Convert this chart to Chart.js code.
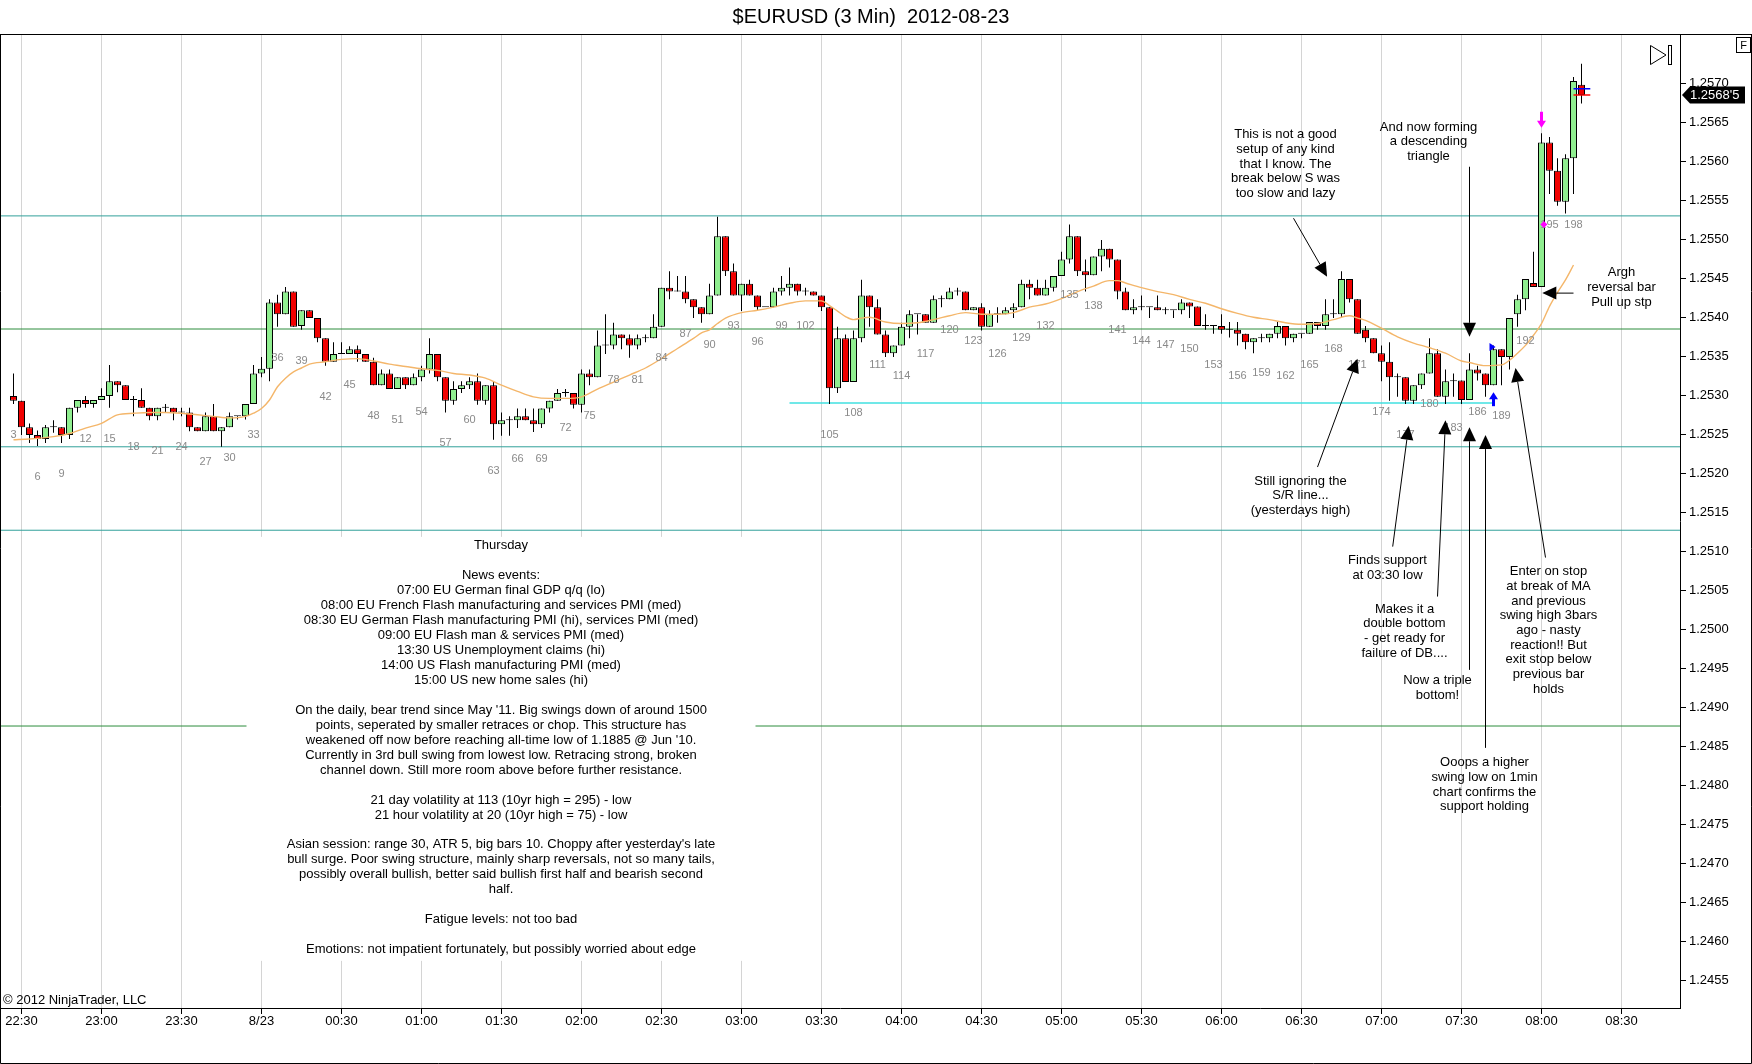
<!DOCTYPE html>
<html>
<head>
<meta charset="utf-8">
<title>$EURUSD (3 Min) 2012-08-23</title>
<script src="https://cdn.jsdelivr.net/npm/chart.js@4.4.1/dist/chart.umd.min.js"></script>
<style>
  html, body { margin: 0; padding: 0; background: #fff; }
  #wrap { width: 1752px; height: 1064px; }
</style>
</head>
<body>
<div id="wrap"><canvas id="chart" width="1752" height="1064"></canvas></div>
<script>
// ---- data (bar numbers 3..199, 3 minute bars) ----
const firstBar = 3;

const opens = [
  1.25299, 1.25293, 1.25259, 1.25249, 1.25244, 1.25259, 1.25259, 1.25249, 1.25284, 1.25294,
  1.25289, 1.25294, 1.25299, 1.25318, 1.25313, 1.25294, 1.25294, 1.25284, 1.25273, 1.25284,
  1.25284, 1.25278, 1.25278, 1.25259, 1.25254, 1.25273, 1.25254, 1.25259, 1.25273, 1.25273,
  1.25289, 1.25328, 1.25334, 1.25419, 1.25404, 1.25433, 1.25389, 1.25409, 1.25399, 1.25373,
  1.25343, 1.25353, 1.25353, 1.25359, 1.25353, 1.25343, 1.25313, 1.25328, 1.25308, 1.25323,
  1.25313, 1.25323, 1.25333, 1.25353, 1.25323, 1.25293, 1.25308, 1.25313, 1.25318, 1.25293,
  1.25313, 1.25263, 1.25268, 1.25268, 1.25273, 1.25268, 1.25263, 1.25283, 1.25293, 1.25303,
  1.25303, 1.25288, 1.25328, 1.25323, 1.25364, 1.25364, 1.25378, 1.25373, 1.25364, 1.25373,
  1.25373, 1.25388, 1.25438, 1.25433, 1.25433, 1.25423, 1.25413, 1.25404, 1.25428, 1.25504,
  1.25459, 1.25428, 1.25443, 1.25428, 1.25413, 1.25413, 1.25433, 1.25438, 1.25443, 1.25433,
  1.25433, 1.25428, 1.25413, 1.25309, 1.25373, 1.25317, 1.25373, 1.25428, 1.25413, 1.25378,
  1.25354, 1.25364, 1.25388, 1.25404, 1.25404, 1.25393, 1.25423, 1.25423, 1.25433, 1.25433,
  1.25409, 1.25413, 1.25388, 1.25404, 1.25404, 1.25409, 1.25413, 1.25443, 1.25438, 1.25428,
  1.25438, 1.25453, 1.25474, 1.25504, 1.25459, 1.25454, 1.25478, 1.25488, 1.25474, 1.25433,
  1.25409, 1.25413, 1.25413, 1.25413, 1.25409, 1.25409, 1.25409, 1.25419, 1.25414, 1.25389,
  1.25389, 1.25389, 1.25384, 1.25384, 1.25379, 1.25368, 1.25373, 1.25373, 1.25379, 1.25389,
  1.25373, 1.25379, 1.25379, 1.25394, 1.25389, 1.25404, 1.25404, 1.25449, 1.25423, 1.25384,
  1.25373, 1.25354, 1.25343, 1.25323, 1.25323, 1.25293, 1.25313, 1.25328, 1.25354, 1.25298,
  1.25318, 1.25319, 1.25294, 1.25333, 1.25328, 1.25313, 1.25359, 1.25349, 1.25404, 1.25423,
  1.25444, 1.25439, 1.25624, 1.25588, 1.25548, 1.25604, 1.25698
];
const highs = [
  1.25328, 1.25293, 1.25264, 1.25255, 1.25262, 1.25268, 1.25259, 1.25284, 1.25294, 1.25299,
  1.25294, 1.25309, 1.25339, 1.25318, 1.25313, 1.25299, 1.25309, 1.25284, 1.25284, 1.25289,
  1.25284, 1.25284, 1.25284, 1.25259, 1.25278, 1.25289, 1.25259, 1.25278, 1.25273, 1.25289,
  1.25339, 1.25349, 1.25423, 1.25429, 1.25439, 1.25433, 1.25409, 1.25409, 1.25399, 1.25373,
  1.25368, 1.25368, 1.25363, 1.25364, 1.25353, 1.25348, 1.25333, 1.25333, 1.25323, 1.25323,
  1.25328, 1.25338, 1.25373, 1.25353, 1.25323, 1.25318, 1.25318, 1.25323, 1.25328, 1.25313,
  1.25318, 1.25278, 1.25273, 1.25283, 1.25283, 1.25283, 1.25283, 1.25293, 1.25308, 1.25308,
  1.25303, 1.25333, 1.25333, 1.25383, 1.25404, 1.25393, 1.25378, 1.25378, 1.25378, 1.25378,
  1.25404, 1.25438, 1.25459, 1.25453, 1.25453, 1.25423, 1.25413, 1.25443, 1.25529, 1.25504,
  1.25469, 1.25443, 1.25448, 1.25428, 1.25413, 1.25438, 1.25453, 1.25464, 1.25443, 1.25438,
  1.25433, 1.25428, 1.25413, 1.25388, 1.25378, 1.25383, 1.25448, 1.25428, 1.25423, 1.25383,
  1.25364, 1.25393, 1.25409, 1.25404, 1.25404, 1.25428, 1.25428, 1.25438, 1.25438, 1.25433,
  1.25413, 1.25418, 1.25409, 1.25413, 1.25413, 1.25418, 1.25448, 1.25448, 1.25448, 1.25448,
  1.25453, 1.25484, 1.25519, 1.25504, 1.25474, 1.25478, 1.25499, 1.25488, 1.25474, 1.25438,
  1.25423, 1.25428, 1.25413, 1.25428, 1.25413, 1.25409, 1.25423, 1.25419, 1.25414, 1.25404,
  1.25389, 1.25404, 1.25394, 1.25394, 1.25379, 1.25373, 1.25379, 1.25379, 1.25394, 1.25389,
  1.25379, 1.25379, 1.25394, 1.25394, 1.25423, 1.25423, 1.25459, 1.25449, 1.25423, 1.25389,
  1.25373, 1.25364, 1.25368, 1.25328, 1.25323, 1.25313, 1.25328, 1.25373, 1.25359, 1.25333,
  1.25328, 1.25319, 1.25354, 1.25338, 1.25328, 1.25364, 1.25359, 1.25399, 1.25429, 1.25449,
  1.25484, 1.25636, 1.25631, 1.25604, 1.25609, 1.25708, 1.25725
];
const lows = [
  1.25289, 1.25249, 1.25239, 1.25235, 1.25239, 1.25252, 1.25239, 1.25244, 1.25278, 1.25284,
  1.25284, 1.25294, 1.25284, 1.25304, 1.25294, 1.25273, 1.25284, 1.25268, 1.25268, 1.25278,
  1.25268, 1.25273, 1.25254, 1.25254, 1.25254, 1.25254, 1.25234, 1.25259, 1.25269, 1.25269,
  1.25289, 1.25323, 1.25318, 1.25388, 1.25404, 1.25388, 1.25384, 1.25399, 1.25368, 1.25338,
  1.25343, 1.25353, 1.25353, 1.25343, 1.25343, 1.25313, 1.25313, 1.25308, 1.25308, 1.25308,
  1.25313, 1.25318, 1.25328, 1.25318, 1.25278, 1.25288, 1.25303, 1.25308, 1.25288, 1.25288,
  1.25243, 1.25248, 1.25248, 1.25258, 1.25268, 1.25253, 1.25258, 1.25278, 1.25293, 1.25298,
  1.25283, 1.25278, 1.25313, 1.25323, 1.25353, 1.25359, 1.25359, 1.25348, 1.25359, 1.25368,
  1.25373, 1.25388, 1.25423, 1.25433, 1.25418, 1.25399, 1.25393, 1.25404, 1.25428, 1.25453,
  1.25428, 1.25408, 1.25428, 1.25408, 1.25413, 1.25413, 1.25428, 1.25428, 1.25428, 1.25428,
  1.25428, 1.25408, 1.25289, 1.25303, 1.25317, 1.25317, 1.25368, 1.25388, 1.25378, 1.25349,
  1.25349, 1.25364, 1.25373, 1.25378, 1.25393, 1.25393, 1.25413, 1.25423, 1.25428, 1.25409,
  1.25409, 1.25383, 1.25388, 1.25393, 1.25404, 1.25399, 1.25413, 1.25423, 1.25428, 1.25428,
  1.25433, 1.25453, 1.25469, 1.25453, 1.25433, 1.25454, 1.25459, 1.25464, 1.25423, 1.25409,
  1.25404, 1.25409, 1.25399, 1.25409, 1.25404, 1.25399, 1.25404, 1.25399, 1.25389, 1.25384,
  1.25379, 1.25379, 1.25374, 1.25364, 1.25359, 1.25354, 1.25368, 1.25368, 1.25373, 1.25364,
  1.25368, 1.25373, 1.25379, 1.25384, 1.25384, 1.25399, 1.25399, 1.25419, 1.25379, 1.25368,
  1.25354, 1.25318, 1.25293, 1.25298, 1.25289, 1.25289, 1.25308, 1.25328, 1.25298, 1.25289,
  1.25298, 1.25289, 1.25294, 1.25319, 1.25298, 1.25313, 1.25313, 1.25333, 1.25388, 1.25409,
  1.25439, 1.25439, 1.25558, 1.25543, 1.25533, 1.25558, 1.25674
];
const closes = [
  1.25293, 1.25259, 1.25249, 1.25244, 1.25259, 1.25259, 1.25249, 1.25284, 1.25294, 1.25289,
  1.25294, 1.25299, 1.25318, 1.25313, 1.25294, 1.25294, 1.25284, 1.25273, 1.25284, 1.25284,
  1.25278, 1.25278, 1.25259, 1.25254, 1.25273, 1.25254, 1.25259, 1.25273, 1.25273, 1.25289,
  1.25328, 1.25334, 1.25419, 1.25404, 1.25433, 1.25388, 1.25409, 1.25399, 1.25373, 1.25343,
  1.25353, 1.25353, 1.25359, 1.25353, 1.25343, 1.25313, 1.25328, 1.25308, 1.25323, 1.25313,
  1.25323, 1.25333, 1.25353, 1.25323, 1.25293, 1.25308, 1.25313, 1.25318, 1.25293, 1.25313,
  1.25263, 1.25268, 1.25268, 1.25273, 1.25268, 1.25263, 1.25283, 1.25293, 1.25303, 1.25303,
  1.25288, 1.25328, 1.25323, 1.25364, 1.25364, 1.25378, 1.25373, 1.25364, 1.25373, 1.25373,
  1.25388, 1.25438, 1.25433, 1.25433, 1.25423, 1.25413, 1.25404, 1.25428, 1.25504, 1.25459,
  1.25428, 1.25443, 1.25428, 1.25413, 1.25413, 1.25433, 1.25438, 1.25443, 1.25433, 1.25433,
  1.25428, 1.25413, 1.25309, 1.25373, 1.25317, 1.25373, 1.25428, 1.25413, 1.25378, 1.25354,
  1.25364, 1.25388, 1.25404, 1.25404, 1.25393, 1.25423, 1.25423, 1.25433, 1.25433, 1.25409,
  1.25413, 1.25388, 1.25404, 1.25404, 1.25409, 1.25413, 1.25443, 1.25438, 1.25428, 1.25438,
  1.25453, 1.25474, 1.25504, 1.25459, 1.25454, 1.25478, 1.25488, 1.25474, 1.25433, 1.25409,
  1.25413, 1.25413, 1.25413, 1.25409, 1.25409, 1.25409, 1.25419, 1.25414, 1.25389, 1.25389,
  1.25389, 1.25384, 1.25384, 1.25379, 1.25368, 1.25373, 1.25373, 1.25379, 1.25389, 1.25373,
  1.25379, 1.25379, 1.25394, 1.25389, 1.25404, 1.25404, 1.25449, 1.25423, 1.25379, 1.25373,
  1.25354, 1.25343, 1.25323, 1.25323, 1.25293, 1.25313, 1.25328, 1.25354, 1.25298, 1.25318,
  1.25319, 1.25294, 1.25333, 1.25328, 1.25313, 1.25359, 1.25349, 1.25399, 1.25423, 1.25449,
  1.25439, 1.25624, 1.25588, 1.25548, 1.25604, 1.25703, 1.25685
];

// moving average, read at a subset of bars
const maBars = [3, 5, 8, 10, 12, 14, 16, 18, 20, 22, 24, 26, 28, 30, 32, 33, 34, 35, 36, 37,
  38, 39, 40, 42, 44, 46, 48, 50, 52, 54, 56, 58, 60, 62, 64, 66, 68, 70, 72, 74,
  76, 78, 80, 82, 84, 86, 88, 89, 90, 91, 92, 94, 96, 98, 100, 102, 104, 105, 106, 107,
  108, 109, 110, 112, 114, 116, 118, 120, 122, 124, 126, 128, 130, 132, 134, 136, 138, 140, 141, 142,
  144, 146, 148, 150, 152, 154, 156, 158, 160, 162, 164, 166, 168, 170, 171, 172, 174, 176, 178, 180,
  182, 184, 185, 187, 189, 190, 191, 192, 193, 194, 195, 196, 197, 198];
const maValues = [1.25243, 1.25244, 1.25247, 1.25251, 1.25258, 1.25264, 1.25275, 1.25277, 1.25278, 1.25278,
  1.25277, 1.25275, 1.25273, 1.25271, 1.25273, 1.25277, 1.25283, 1.25294, 1.25311, 1.25322,
  1.25330, 1.25335, 1.25340, 1.25343, 1.25346, 1.25347, 1.25344, 1.25340, 1.25337, 1.25334,
  1.25332, 1.25328, 1.25326, 1.25322, 1.25313, 1.25305, 1.25298, 1.25296, 1.25296, 1.25298,
  1.25308, 1.25317, 1.25326, 1.25335, 1.25347, 1.25360, 1.25373, 1.25380, 1.25384, 1.25392,
  1.25399, 1.25406, 1.25409, 1.25413, 1.25418, 1.25421, 1.25421, 1.25415, 1.25408, 1.25401,
  1.25397, 1.25399, 1.25400, 1.25394, 1.25392, 1.25393, 1.25397, 1.25402, 1.25406, 1.25404,
  1.25404, 1.25406, 1.25413, 1.25417, 1.25424, 1.25433, 1.25440, 1.25447, 1.25447, 1.25444,
  1.25438, 1.25433, 1.25429, 1.25423, 1.25418, 1.25411, 1.25405, 1.25400, 1.25397, 1.25393,
  1.25391, 1.25392, 1.25397, 1.25402, 1.25399, 1.25396, 1.25386, 1.25375, 1.25367, 1.25361,
  1.25354, 1.25344, 1.25342, 1.25338, 1.25339, 1.25345, 1.25354, 1.25364, 1.25377, 1.25392,
  1.25414, 1.25432, 1.25448, 1.25467];

const timeTickBars = [4, 14, 24, 34, 44, 54, 64, 74, 84, 94, 104, 114, 124, 134, 144, 154, 164, 174, 184, 194, 204];
const timeLabels = ['22:30', '23:00', '23:30', '8/23', '00:30', '01:00', '01:30', '02:00', '02:30', '03:00', '03:30',
  '04:00', '04:30', '05:00', '05:30', '06:00', '06:30', '07:00', '07:30', '08:00', '08:30'];
const priceTicks = [1.2455, 1.2460, 1.2465, 1.2470, 1.2475, 1.2480, 1.2485, 1.2490, 1.2495, 1.2500, 1.2505, 1.2510,
  1.2515, 1.2520, 1.2525, 1.2530, 1.2535, 1.2540, 1.2545, 1.2550, 1.2555, 1.2560, 1.2565, 1.2570];

// drawn levels
const tealLevels = [1.25530, 1.25234, 1.25127];
const greenLevels = [1.25385, 1.24876];
const srBars = [100, 188];
const srPrice = 1.25290;
const posBars = [198.0, 200.1];
const posPrices = [1.25693, 1.25685];

// notes and arrows, anchored in (bar, price)
const notes = [
  { bar: 162.0, price: 1.25634, lines: ['This is not a good', 'setup of any kind', 'that I know. The', 'break below S was', 'too slow and lazy'] },
  { bar: 179.875, price: 1.25644, lines: ['And now forming', 'a descending', 'triangle'] },
  { bar: 204.0, price: 1.25457, lines: ['Argh', 'reversal bar', 'Pull up stp'] },
  { bar: 163.875, price: 1.25190, lines: ['Still ignoring the', 'S/R line...', '(yesterdays high)'] },
  { bar: 174.75, price: 1.25088, lines: ['Finds support', 'at 03:30 low'] },
  { bar: 176.875, price: 1.25026, lines: ['Makes it a', 'double bottom', '- get ready for', 'failure of DB....'] },
  { bar: 181.0, price: 1.24934, lines: ['Now a triple', 'bottom!'] },
  { bar: 186.875, price: 1.24829, lines: ['Ooops a higher', 'swing low on 1min', 'chart confirms the', 'support holding'] },
  { bar: 194.875, price: 1.25074, lines: ['Enter on stop', 'at break of MA', 'and previous', 'swing high 3bars', 'ago - nasty', 'reaction!! But', 'exit stop below', 'previous bar', 'holds'] }
];
const journalAnchor = { bar: 63.9375, price: 1.25107 };
const journalLines = [
  'Thursday',
  '',
  'News events:',
  '07:00 EU German final GDP q/q (lo)',
  '08:00 EU French Flash manufacturing and services PMI (med)',
  '08:30 EU German Flash manufacturing PMI (hi), services PMI (med)',
  '09:00 EU Flash man & services PMI (med)',
  '13:30 US Unemployment claims (hi)',
  '14:00 US Flash manufacturing PMI (med)',
  '15:00 US new home sales (hi)',
  '',
  "On the daily, bear trend since May '11. Big swings down of around 1500",
  'points, seperated by smaller retraces or chop. This structure has',
  "weakened off now before reaching all-time low of 1.1885 @ Jun '10.",
  'Currently in 3rd bull swing from lowest low. Retracing strong, broken',
  'channel down. Still more room above before further resistance.',
  '',
  '21 day volatility at 113 (10yr high = 295) - low',
  '21 hour volatility at 20 (10yr high = 75) - low',
  '',
  "Asian session: range 30, ATR 5, big bars 10. Choppy after yesterday's late",
  'bull surge. Poor swing structure, mainly sharp reversals, not so many tails,',
  'possibly overall bullish, better said bullish first half and bearish second',
  'half.',
  '',
  'Fatigue levels: not too bad',
  '',
  'Emotions: not impatient fortunately, but possibly worried about edge'
];
const arrows = [
  { from: [163.0, 1.25527], to: [167.2, 1.25452] },
  { from: [185.0, 1.25593], to: [185.0, 1.25375] },
  { from: [198.0, 1.25431], to: [194.1, 1.25431] },
  { from: [166.0, 1.25208], to: [171.0, 1.25347] },
  { from: [175.4, 1.25106], to: [177.4, 1.25261] },
  { from: [181.0, 1.25042], to: [182.0, 1.25268] },
  { from: [185.0, 1.24948], to: [185.0, 1.25259] },
  { from: [187.0, 1.24848], to: [187.0, 1.25249] },
  { from: [194.5, 1.25092], to: [190.75, 1.25335] }
];
const signalMarks = [
  { bar: 194, price: 1.25643, kind: 'down', color: '#ff00ff' },
  { bar: 194.3, price: 1.25519, kind: 'dot', color: '#ff00ff' },
  { bar: 188, price: 1.25304, kind: 'up', color: '#0000ff' },
  { bar: 187.75, price: 1.25362, kind: 'right', color: '#0000ff' }
];

// ---- chart setup ----
const FONT = '"Liberation Sans", Arial, sans-serif';
const X_MIN = 1.3125, X_MAX = 211.3125;
const Y_MIN = 1.245145, Y_MAX = 1.257632;
const UP = '#90ee90', DOWN = '#f00000';
const TEAL = '#31a09a', GREEN = '#2c8c3c', CYAN = '#40e0e0';

const lastBar = firstBar + closes.length - 1;
const wickData = highs.map((h, i) => ({ x: firstBar + i, y: [lows[i], h] }));
const bodyData = opens.map((o, i) => ({ x: firstBar + i, y: [o, closes[i]] }));
const bodyColors = opens.map((o, i) => closes[i] < o ? DOWN : UP);
const maData = maBars.map((b, i) => ({ x: b, y: maValues[i] }));

function hline(price, color, x0, x1, width) {
  return {
    type: 'line', data: [{ x: x0, y: price }, { x: x1, y: price }],
    borderColor: color, borderWidth: width || 1, pointRadius: 0, order: 6
  };
}

function pipFormat(v) {
  const s = v.toFixed(5);
  return s.slice(0, 6) + "'" + s.slice(6);
}

function arrowTo(ctx, x1, y1, x2, y2) {
  const a = Math.atan2(y2 - y1, x2 - x1);
  const len = 14, half = 6.5;
  const bx = x2 - len * Math.cos(a), by = y2 - len * Math.sin(a);
  ctx.beginPath();
  ctx.moveTo(x1, y1);
  ctx.lineTo(bx, by);
  ctx.stroke();
  ctx.beginPath();
  ctx.moveTo(x2, y2);
  ctx.lineTo(bx + half * Math.sin(a), by - half * Math.cos(a));
  ctx.lineTo(bx - half * Math.sin(a), by + half * Math.cos(a));
  ctx.closePath();
  ctx.fill();
}

const annotate = {
  id: 'annotate',
  afterDatasetsDraw(chart) {
    const { ctx } = chart;
    const xs = chart.scales.x, ys = chart.scales.y;
    const px = b => xs.getPixelForValue(b);
    const py = p => ys.getPixelForValue(p);
    ctx.save();

    // bar numbers under every third bar
    ctx.font = '11px ' + FONT;
    ctx.fillStyle = '#8a8a8a';
    ctx.textAlign = 'center';
    ctx.textBaseline = 'middle';
    for (let n = firstBar; n <= lastBar; n += 3) {
      ctx.fillText(String(n), px(n), py(lows[n - firstBar]) + 31);
    }

    // journal block on white
    const jx = px(journalAnchor.bar), jy = py(journalAnchor.price);
    ctx.fillStyle = '#fff';
    ctx.fillRect(jx - 254.5, jy - 9, 509, 424);
    ctx.fillStyle = '#000';
    ctx.font = '13px ' + FONT;
    journalLines.forEach((t, i) => ctx.fillText(t, jx, jy + i * 14.95));

    // notes
    notes.forEach(n => {
      const x = px(n.bar), y = py(n.price);
      n.lines.forEach((t, i) => ctx.fillText(t, x, y + i * 14.7));
    });

    // arrows
    ctx.strokeStyle = '#000';
    ctx.fillStyle = '#000';
    ctx.lineWidth = 1;
    arrows.forEach(a => arrowTo(ctx, px(a.from[0]), py(a.from[1]), px(a.to[0]), py(a.to[1])));

    // signal marks
    signalMarks.forEach(m => {
      const x = px(m.bar), y = py(m.price);
      ctx.fillStyle = m.color;
      ctx.beginPath();
      if (m.kind === 'down') {
        ctx.fillRect(x - 1.5, y - 16, 3, 10);
        ctx.moveTo(x - 4.5, y - 7); ctx.lineTo(x + 4.5, y - 7); ctx.lineTo(x, y);
      } else if (m.kind === 'up') {
        ctx.fillRect(x - 1.5, y + 6, 3, 8);
        ctx.moveTo(x - 4.5, y + 7); ctx.lineTo(x + 4.5, y + 7); ctx.lineTo(x, y);
      } else if (m.kind === 'right') {
        ctx.moveTo(x - 2, y - 4); ctx.lineTo(x - 2, y + 4); ctx.lineTo(x + 4, y);
      } else {
        ctx.moveTo(x, y - 3.5); ctx.lineTo(x + 3.5, y); ctx.lineTo(x, y + 3.5); ctx.lineTo(x - 3.5, y);
      }
      ctx.closePath();
      ctx.fill();
    });
    ctx.restore();
  },
  afterDraw(chart) {
    const { ctx } = chart;
    const ys = chart.scales.y;
    const W = chart.width, H = chart.height, ca = chart.chartArea;
    ctx.save();

    // title
    ctx.fillStyle = '#000';
    ctx.font = '20px ' + FONT;
    ctx.textAlign = 'center';
    ctx.textBaseline = 'middle';
    ctx.fillText('$EURUSD (3 Min)  2012-08-23', 871, 17);

    // copyright
    ctx.font = '13px ' + FONT;
    ctx.textAlign = 'left';
    ctx.fillText('\u00a9 2012 NinjaTrader, LLC', 3, ca.bottom - 8);

    // frame
    ctx.strokeStyle = '#000';
    ctx.lineWidth = 1;
    ctx.beginPath();
    ctx.moveTo(0, ca.top + 0.5); ctx.lineTo(W, ca.top + 0.5);
    ctx.moveTo(0.5, ca.top); ctx.lineTo(0.5, H - 0.5); ctx.lineTo(W - 0.5, H - 0.5); ctx.lineTo(W - 0.5, ca.top);
    ctx.stroke();

    // F box and end-of-chart icon
    ctx.strokeRect(1736.5, 37.5, 14, 15);
    ctx.font = '11px ' + FONT;
    ctx.textAlign = 'center';
    ctx.fillText('F', 1743.5, 45.5);
    ctx.beginPath();
    ctx.moveTo(1650.5, 45.5); ctx.lineTo(1650.5, 64.5); ctx.lineTo(1666, 55); ctx.closePath();
    ctx.stroke();
    ctx.strokeRect(1668.5, 45.5, 3, 19);

    // last price label
    const last = closes[closes.length - 1];
    const y = ys.getPixelForValue(last);
    ctx.fillStyle = '#000';
    ctx.beginPath();
    ctx.moveTo(ca.right + 2, y);
    ctx.lineTo(ca.right + 10, y - 8.5);
    ctx.lineTo(1745, y - 8.5);
    ctx.lineTo(1745, y + 8.5);
    ctx.lineTo(ca.right + 10, y + 8.5);
    ctx.closePath();
    ctx.fill();
    ctx.fillStyle = '#fff';
    ctx.font = '13px ' + FONT;
    ctx.textAlign = 'left';
    ctx.fillText(pipFormat(last), ca.right + 10, y + 0.5);
    ctx.restore();
  }
};

const datasets = [
  {
    type: 'line', label: 'MA', data: maData, borderColor: '#f4b66a', borderWidth: 1.4,
    pointRadius: 0, cubicInterpolationMode: 'monotone', order: 1
  },
  {
    type: 'bar', label: 'body', data: bodyData, backgroundColor: bodyColors, borderColor: '#000',
    borderWidth: 1, borderSkipped: false, barThickness: 7, minBarLength: 1, inflateAmount: 0,
    grouped: false, order: 2
  },
  {
    type: 'bar', label: 'wick', data: wickData, backgroundColor: '#000', borderWidth: 0,
    barThickness: 1, inflateAmount: 0, grouped: false, order: 3
  },
  ...tealLevels.map(p => hline(p, TEAL, X_MIN, X_MAX)),
  ...greenLevels.map(p => hline(p, GREEN, X_MIN, X_MAX)),
  hline(srPrice, CYAN, srBars[0], srBars[1], 1.5),
  Object.assign(hline(posPrices[0], '#0000ff', posBars[0], posBars[1], 1.5), { order: 0 }),
  Object.assign(hline(posPrices[1], '#ff0000', posBars[0], posBars[1], 1.5), { order: 0 })
];

new Chart(document.getElementById('chart'), {
  type: 'bar',
  data: { datasets: datasets },
  options: {
    responsive: false,
    devicePixelRatio: 1,
    animation: false,
    events: [],
    layout: { padding: { top: 34, left: 0, right: 0, bottom: 0 } },
    plugins: { legend: { display: false }, tooltip: { enabled: false }, title: { display: false } },
    scales: {
      x: {
        type: 'linear', min: X_MIN, max: X_MAX, offset: false,
        afterBuildTicks: s => { s.ticks = timeTickBars.map(v => ({ value: v })); },
        afterFit: s => { s.height = 56; },
        ticks: {
          autoSkip: false, maxRotation: 0, padding: 0, color: '#000',
          font: { family: FONT, size: 13 },
          callback: (v, i) => timeLabels[i]
        },
        grid: { offset: false, color: '#d4d4d4', tickColor: '#000', tickLength: 6 },
        border: { color: '#000' }
      },
      y: {
        position: 'right', min: Y_MIN, max: Y_MAX,
        afterBuildTicks: s => { s.ticks = priceTicks.map(v => ({ value: v })); },
        afterFit: s => { s.width = 72; },
        ticks: { padding: 3, color: '#000', font: { family: FONT, size: 13 }, callback: v => v.toFixed(4) },
        grid: { drawOnChartArea: false, tickColor: '#000', tickLength: 6 },
        border: { color: '#000' }
      }
    }
  },
  plugins: [annotate]
});
</script>
</body>
</html>
